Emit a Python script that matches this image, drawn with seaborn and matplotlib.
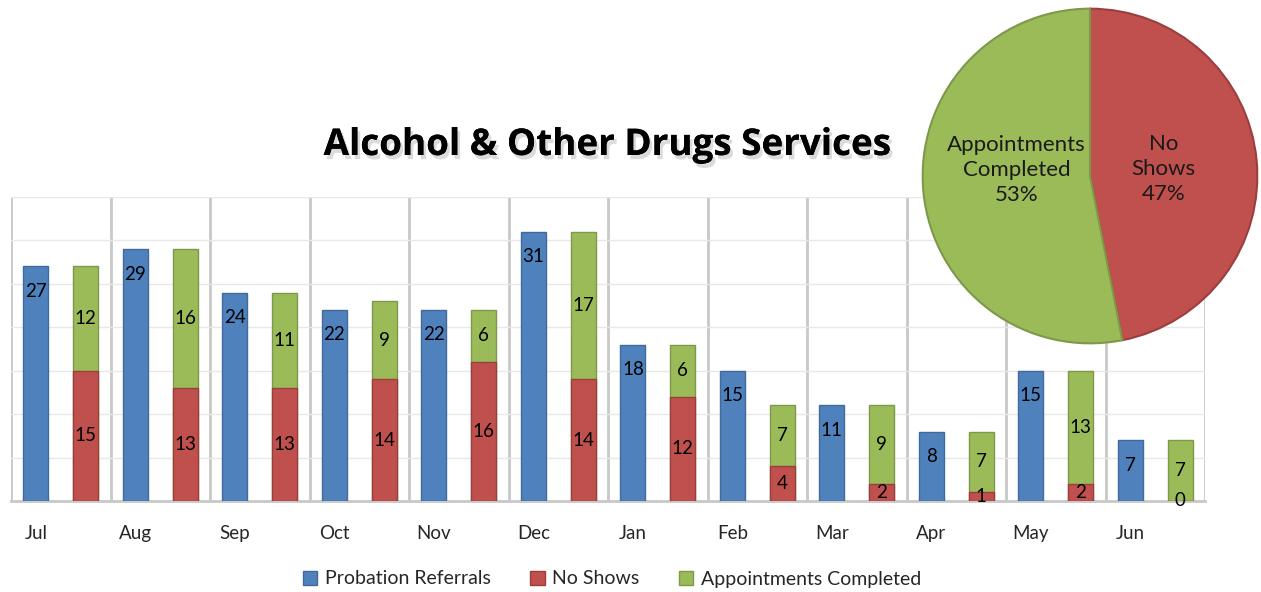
import numpy as np
import pandas as pd
import matplotlib
matplotlib.use("Agg")
import matplotlib.pyplot as plt
import matplotlib.patheffects as pe
from matplotlib.patches import Patch
import seaborn as sns

months = ["Jul", "Aug", "Sep", "Oct", "Nov", "Dec", "Jan", "Feb", "Mar", "Apr", "May", "Jun"]
referrals = [27, 29, 24, 22, 22, 31, 18, 15, 11, 8, 15, 7]
no_shows = [15, 13, 13, 14, 16, 14, 12, 4, 2, 1, 2, 0]
completed = [12, 16, 11, 9, 6, 17, 6, 7, 9, 7, 13, 7]
series_names = ["Probation Referrals", "No Shows", "Appointments Completed"]

BLUE = "#4F81BD"
RED = "#C0504D"
GREEN = "#9BBB59"
BLUE_E = "#41699A"
RED_E = "#9A3F3D"
GREEN_E = "#7D9848"

sns.set_theme(style="white")
plt.rcParams["font.family"] = ["Lato", "DejaVu Sans"]

W, H = 1261, 592
fig = plt.figure(figsize=(W / 100, H / 100), dpi=100)
ax = fig.add_axes([11 / W, 1 - 501 / H, (1205 - 11) / W, (501 - 197) / H])

totals = [n + c for n, c in zip(no_shows, completed)]
df_back = pd.DataFrame({
    "month": months * 2,
    "value": referrals + totals,
    "series": ["ref"] * 12 + ["stack"] * 12,
})
df_red = pd.DataFrame({"month": months, "value": no_shows, "series": ["stack"] * 12})

common = dict(x="month", y="value", hue="series", order=months,
              hue_order=["ref", "stack"], dodge=True, width=1.0, gap=0.5,
              legend=False, saturation=1, errorbar=None, ax=ax, linewidth=1)
sns.barplot(data=df_back, palette={"ref": BLUE, "stack": GREEN}, **common)
sns.barplot(data=df_red, palette={"ref": BLUE, "stack": RED}, **common)

for p in ax.patches:
    fc = matplotlib.colors.to_hex(p.get_facecolor()).upper()
    p.set_edgecolor({BLUE: BLUE_E, GREEN: GREEN_E, RED: RED_E}.get(fc, "#555555"))
    p.set_zorder(3)

fs = 13.5
for i, v in enumerate(referrals):
    ax.annotate(str(v), (i - 0.25, v), xytext=(0, -25), textcoords="offset pixels",
                ha="center", va="center", fontsize=fs, color="black", zorder=5)
for i, (n, c) in enumerate(zip(no_shows, completed)):
    ax.annotate(str(n), (i + 0.25, n / 2), ha="center", va="center",
                fontsize=fs, color="black", zorder=5)
    ax.annotate(str(c), (i + 0.25, n + c / 2), ha="center", va="center",
                fontsize=fs, color="black", zorder=5)

ax.set_xlim(-0.5, 11.5)
ax.set_ylim(0, 35)
ax.set_yticks(range(0, 36, 5))
ax.set_yticklabels([])
ax.set_xticks(np.arange(12) - 0.25)
ax.set_xticklabels(months, fontsize=fs)
ax.set_xticks(np.arange(13) - 0.5, minor=True)
ax.tick_params(axis="both", which="both", length=0)
ax.tick_params(axis="x", pad=17)
ax.set_xlabel("")
ax.set_ylabel("")
ax.grid(False)
ax.grid(axis="y", which="major", color="#E8E8E8", linewidth=1)
ax.grid(axis="x", which="minor", color="#C8C8C8", linewidth=2)
ax.set_axisbelow(True)
for s in ["top", "right", "left"]:
    ax.spines[s].set_visible(False)
ax.spines["bottom"].set_color("#C8C8C8")
ax.spines["bottom"].set_linewidth(2)

fig.text(607 / W, 1 - 145 / H, "Alcohol & Other Drugs Services", ha="center", va="center",
         fontsize=26.5, fontweight="bold", color="black", family=["Open Sans", "DejaVu Sans"],
         path_effects=[pe.withSimplePatchShadow(offset=(2, -3), shadow_rgbFace="#999999", alpha=0.35),
                       pe.Normal()])

handles = [Patch(facecolor=BLUE, edgecolor=BLUE_E),
           Patch(facecolor=RED, edgecolor=RED_E),
           Patch(facecolor=GREEN, edgecolor=GREEN_E)]
fig.legend(handles, series_names, loc="center", bbox_to_anchor=(612 / W, 1 - 579 / H),
           ncol=3, frameon=False, fontsize=14, handlelength=0.75, handleheight=0.75,
           columnspacing=2.0, handletextpad=0.4)

# pie overlay
r = 169
pax = fig.add_axes([(1090 - r) / W, 1 - (176 + r) / H, 2 * r / W, 2 * r / H])
pie_vals = [sum(no_shows), sum(completed)]
pie_names = ["No\nShows", "Appointments\nCompleted"]
lab_iter = iter(pie_names)
wedges, texts, autotexts = pax.pie(
    pie_vals, colors=[RED, GREEN], startangle=90, counterclock=False,
    autopct=lambda p: f"{next(lab_iter)}\n{p:.0f}%", pctdistance=0.44,
    wedgeprops=dict(linewidth=1.5),
    textprops=dict(fontsize=16, color="#1a1a1a", linespacing=1.3))
wedges[0].set_edgecolor(RED_E)
wedges[1].set_edgecolor(GREEN_E)
gx, gy = autotexts[1].get_position()
autotexts[1].set_position((gx, gy + 0.08))
pax.set_aspect("equal")
pax.set_xlim(-1.01, 1.01)
pax.set_ylim(-1.01, 1.01)
pax.axis("off")

fig.savefig("out.png", dpi=100)
